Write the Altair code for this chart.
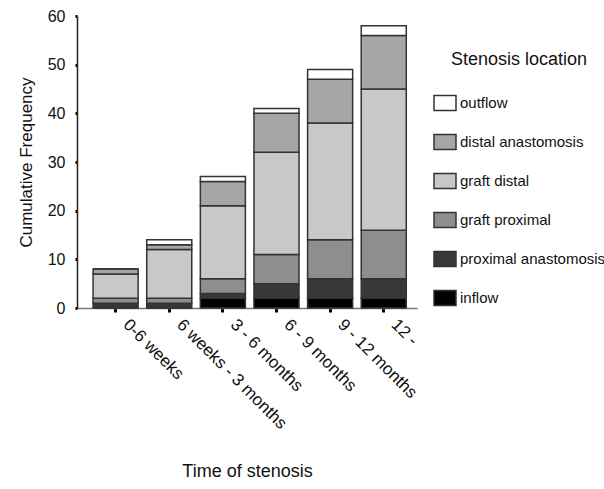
import altair as alt
import pandas as pd

categories = ["0-6 weeks", "6 weeks - 3 months", "3 - 6 months",
              "6 - 9 months", "9 - 12 months", "12 -"]
inflow = [0, 0, 2, 2, 2, 2]
proximal_anastomosis = [1, 1, 1, 3, 4, 4]
graft_proximal = [1, 1, 3, 6, 8, 10]
graft_distal = [5, 10, 15, 21, 24, 29]
distal_anastomosis = [1, 1, 5, 8, 9, 11]
outflow = [0, 1, 1, 1, 2, 2]

locations = ["inflow", "proximal anastomosis", "graft proximal",
             "graft distal", "distal anastomosis", "outflow"]
series = [inflow, proximal_anastomosis, graft_proximal,
          graft_distal, distal_anastomosis, outflow]
colors = {"outflow": "#ffffff", "distal anastomosis": "#a6a6a6",
          "graft distal": "#c8c8c8", "graft proximal": "#8e8e8e",
          "proximal anastomosis": "#383838", "inflow": "#000000"}

rows = []
for k, (loc, vals) in enumerate(zip(locations, series)):
    for cat, v in zip(categories, vals):
        rows.append({"time": cat, "location": loc, "count": v, "order": k})
df = pd.DataFrame(rows)

legend_order = list(reversed(locations))
FONT = "Liberation Sans"

chart = alt.Chart(df).mark_bar(
    stroke="#333333", strokeWidth=1.5, opacity=1
).encode(
    x=alt.X("time:N", sort=categories,
            scale=alt.Scale(paddingInner=0.16, paddingOuter=0.25, align=0.6),
            axis=alt.Axis(title="Time of stenosis", labelAngle=45,
                          labelAlign="left", labelBaseline="top",
                          labelFontSize=17, labelFont=FONT, labelColor="#111",
                          labelPadding=4, labelOffset=16,
                          domainColor="#777777", domainWidth=1.5,
                          tickColor="#000", tickWidth=3, tickSize=4,
                          titleFont=FONT, titleFontSize=18,
                          titleFontWeight="normal", titleColor="#111",
                          titleBaseline="middle", titleY=163)),
    y=alt.Y("count:Q", stack="zero",
            scale=alt.Scale(domain=[0, 60], nice=False),
            axis=alt.Axis(title="Cumulative Frequency",
                          values=[0, 10, 20, 30, 40, 50, 60],
                          labelFontSize=16, labelFont=FONT, labelColor="#111",
                          labelPadding=10, tickColor="#000", tickWidth=3,
                          tickSize=2, domainColor="#222", domainWidth=1.5,
                          grid=False, titleFont=FONT, titleFontSize=17,
                          titleFontWeight="normal", titleColor="#111",
                          titleBaseline="middle", titleX=-51)),
    fill=alt.Fill("location:N",
                  scale=alt.Scale(domain=legend_order,
                                  range=[colors[l] for l in legend_order]),
                  legend=alt.Legend(title="Stenosis location", orient="none",
                                    legendX=356, legendY=35,
                                    symbolType="M-1,-0.68H1V0.68H-1Z",
                                    symbolSize=484, symbolStrokeColor="#333",
                                    symbolStrokeWidth=1.5, symbolOpacity=1,
                                    labelFont=FONT, labelFontSize=15,
                                    labelColor="#111", labelOffset=3,
                                    titleFont=FONT, titleFontSize=18,
                                    titleFontWeight="normal", titleColor="#111",
                                    titleAnchor="middle",
                                    titlePadding=22, rowPadding=16)),
    order=alt.Order("order:Q", sort="ascending"),
).properties(
    width=340, height=292,
    autosize=alt.AutoSizeParams(type="none"),
    padding={"left": 77, "top": 16, "right": 187, "bottom": 181},
).configure_view(stroke=None)

chart.save("out.html", embed_options={"renderer": "svg", "actions": False})
